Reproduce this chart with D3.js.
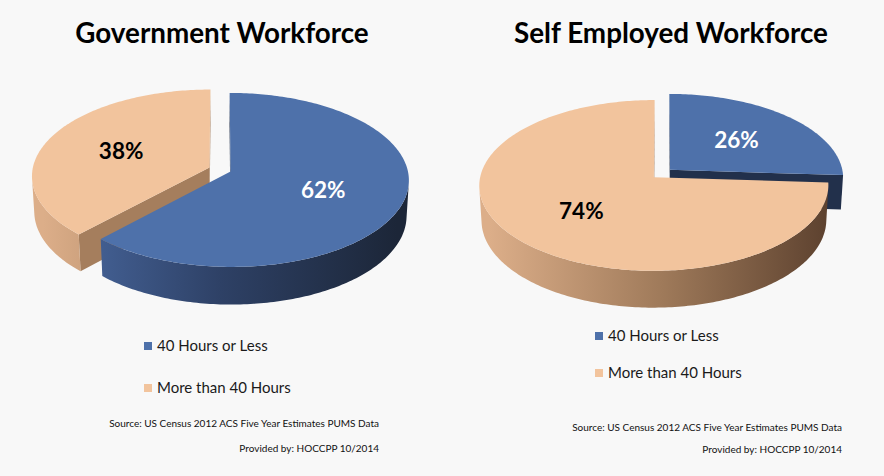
<!DOCTYPE html>
<html lang="en">
<head>
  <meta charset="UTF-8">
  <title>Government vs Self Employed Workforce Hours</title>
  <style>
    body {
      margin: 0;
      background-color: #f8f8f8;
      font-family: Lato, "Open Sans", sans-serif;
    }

    svg {
      display: block;
    }

    .title {
      font-weight: bold;
      font-size: 27.8px;
      fill: #000;
    }

    .pct {
      font-weight: bold;
      font-size: 22.5px;
    }

    .legend text {
      font-size: 15px;
      fill: #1a1a1a;
    }

    .note {
      font-size: 10px;
      fill: #111;
    }
  </style>
</head>
<body>
  <svg id="chart" width="884" height="476"></svg>
  <script src="https://d3js.org/d3.v7.min.js"></script>
  <script>
    // data
    const categories = ['40 Hours or Less', 'More than 40 Hours'];
    const chartTitles = ['Government Workforce', 'Self Employed Workforce'];
    const governmentShares = [62, 38];
    const selfEmployedShares = [26, 74];
    const sourceLines = [
      'Source: US Census 2012 ACS Five Year Estimates PUMS Data',
      'Provided by: HOCCPP 10/2014'
    ];

    // styling
    const topColor = d3.scaleOrdinal().domain(categories).range(['#4e71aa', '#f2c49d']);
    const wallColor = d3.scaleOrdinal().domain(categories).range(['#22304b', '#a57e5d']);
    const labelColor = d3.scaleOrdinal().domain(categories).range(['#ffffff', '#000000']);
    const sideStops = {
      '40 Hours or Less': ['#4b6ba4', '#2e4166', '#1c2638'],
      'More than 40 Hours': ['#dcae89', '#9f7a5a', '#5a3f2d']
    };

    // camera for the tilted pies (radius 1 in world units)
    const view = { tilt: 29 * Math.PI / 180, dist: 9.1, depth: 0.23, explode: 0.064, labelR: 0.55 };

    const panels = [
      { shares: governmentShares, title: chartTitles[0], cx: 220, cy: 169.5, scale: 177,
        titleX: 222, legendX: 144, legendY: 351, legendGap: 42, noteRight: 379, noteY: [427, 452] },
      { shares: selfEmployedShares, title: chartTitles[1], cx: 662, cy: 173.5, scale: 173,
        titleX: 671, legendX: 595, legendY: 341, legendGap: 37, noteRight: 842, noteY: [431, 453] }
    ];

    const svg = d3.select('#chart');
    const defs = svg.append('defs');

    const sT = Math.sin(view.tilt), cT = Math.cos(view.tilt);
    const camera = { x: 0, y: view.dist * sT, z: view.dist * cT };

    function project(p, panel) {
      const up = p.y * cT - p.z * sT;
      const d = view.dist - p.z * cT - p.y * sT;
      const f = panel.scale * view.dist;
      return [panel.cx + f * p.x / d, panel.cy - f * up / d];
    }

    function camDist(p) {
      return Math.hypot(camera.x - p.x, camera.y - p.y, camera.z - p.z);
    }

    function faces(p, normal) {
      return normal[0] * (camera.x - p.x) + normal[1] * (camera.y - p.y) + normal[2] * (camera.z - p.z) > 0;
    }

    const lineGen = d3.line();

    function drawPie(g, panel, pi) {
      const arcs = d3.pie().sort(null)(panel.shares);
      const walls = [];
      const tops = [];

      categories.forEach(cat => {
        const stops = sideStops[cat];
        const grad = defs.append('linearGradient')
          .attr('id', `side-${pi}-${categories.indexOf(cat)}`)
          .attr('gradientUnits', 'userSpaceOnUse')
          .attr('x1', panel.cx - panel.scale).attr('x2', panel.cx + panel.scale)
          .attr('y1', 0).attr('y2', 0);
        stops.forEach((c, k) => grad.append('stop')
          .attr('offset', k / (stops.length - 1)).attr('stop-color', c));
      });

      arcs.forEach((a, i) => {
        const cat = categories[i];
        const mid = (a.startAngle + a.endAngle) / 2;
        const ox = view.explode * Math.sin(mid);
        const oz = -view.explode * Math.cos(mid);
        const pt = (th, r, y) => ({ x: ox + r * Math.sin(th), y: y, z: oz - r * Math.cos(th) });
        const h = -view.depth;

        const n = Math.max(2, Math.ceil((a.endAngle - a.startAngle) / (Math.PI / 180)));
        const ths = d3.range(n + 1).map(k => a.startAngle + (a.endAngle - a.startAngle) * k / n);

        // outer curved wall, grouped into visible runs
        let run = [];
        const flush = () => {
          if (run.length > 1) {
            const topPts = run.map(t => pt(t, 1, 0));
            const botPts = run.map(t => pt(t, 1, h)).reverse();
            const all = topPts.concat(botPts);
            walls.push({
              pts: all, fill: `url(#side-${pi}-${i})`,
              depth: d3.mean(all, camDist)
            });
          }
          run = [];
        };
        for (let k = 0; k < n; k++) {
          const t0 = ths[k], t1 = ths[k + 1], tm = (t0 + t1) / 2;
          const vis = faces(pt(tm, 1, h / 2), [Math.sin(tm), 0, -Math.cos(tm)]);
          if (vis) {
            if (run.length === 0) run.push(t0);
            run.push(t1);
          } else {
            flush();
          }
        }
        flush();

        // flat radial walls at both cut edges
        [[a.startAngle, -1], [a.endAngle, 1]].forEach(([th, side]) => {
          const nrm = [side * Math.cos(th), 0, side * Math.sin(th)];
          const pts = [pt(th, 0, 0), pt(th, 1, 0), pt(th, 1, h), pt(th, 0, h)];
          const c = { x: d3.mean(pts, p => p.x), y: d3.mean(pts, p => p.y), z: d3.mean(pts, p => p.z) };
          if (faces(c, nrm)) {
            walls.push({ pts, fill: wallColor(cat), depth: camDist(c) });
          }
        });

        // top face
        const topPts = [pt(0, 0, 0)].concat(ths.map(t => pt(t, 1, 0)));
        tops.push({ pts: topPts, fill: topColor(cat), depth: camDist(pt(mid, 0.5, 0)) });

        // percentage label
        const lp = project(pt(mid, view.labelR, 0), panel);
        tops.push({ label: `${a.data}%`, pos: lp, color: labelColor(cat), depth: -1 });
      });

      walls.sort((p, q) => q.depth - p.depth);
      tops.sort((p, q) => q.depth - p.depth);

      const pieG = g.append('g').attr('class', 'pie');
      walls.forEach(w => {
        pieG.append('path')
          .attr('d', lineGen(w.pts.map(p => project(p, panel))) + 'Z')
          .attr('fill', w.fill);
      });
      tops.filter(t => !t.label).forEach(t => {
        pieG.append('path')
          .attr('d', lineGen(t.pts.map(p => project(p, panel))) + 'Z')
          .attr('fill', t.fill);
      });
      tops.filter(t => t.label).forEach(t => {
        pieG.append('text')
          .attr('class', 'pct')
          .attr('x', t.pos[0])
          .attr('y', t.pos[1])
          .attr('text-anchor', 'middle')
          .attr('dominant-baseline', 'central')
          .attr('fill', t.color)
          .text(t.label);
      });
    }

    panels.forEach((panel, pi) => {
      const g = svg.append('g').attr('class', 'panel');

      g.append('text')
        .attr('class', 'title')
        .attr('x', panel.titleX)
        .attr('y', 43)
        .attr('text-anchor', 'middle')
        .text(panel.title);

      drawPie(g, panel, pi);

      const legend = g.append('g').attr('class', 'legend');
      categories.forEach((cat, i) => {
        const y = panel.legendY + i * panel.legendGap;
        legend.append('rect')
          .attr('x', panel.legendX)
          .attr('y', y - 9)
          .attr('width', 8)
          .attr('height', 8)
          .attr('fill', topColor(cat));
        legend.append('text')
          .attr('x', panel.legendX + 13)
          .attr('y', y)
          .text(cat);
      });

      sourceLines.forEach((line, i) => {
        g.append('text')
          .attr('class', 'note')
          .attr('x', panel.noteRight)
          .attr('y', panel.noteY[i])
          .attr('text-anchor', 'end')
          .text(line);
      });
    });
  </script>
</body>
</html>
